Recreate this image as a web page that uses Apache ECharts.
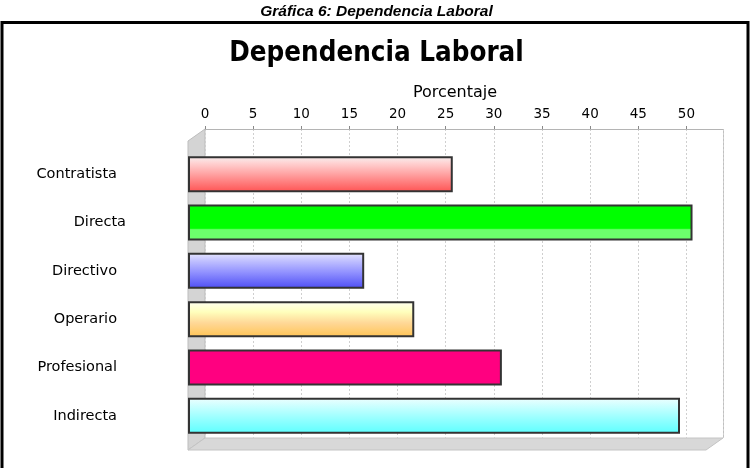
<!DOCTYPE html>
<html>
<head>
<meta charset="utf-8">
<title>Dependencia Laboral</title>
<script src="https://cdn.jsdelivr.net/npm/echarts@6/dist/echarts.min.js"></script>
<style>
  html, body { margin: 0; padding: 0; background: #fff; }
  #chart { width: 753px; height: 468px; }
</style>
</head>
<body>
<div id="chart"></div>
<script>
// datos (porcentaje, escala de la cara frontal)
const categorias = ['Contratista', 'Directa', 'Directivo', 'Operario', 'Profesional', 'Indirecta'];
const porcentajes = [27.5, 52.4, 18.3, 23.5, 32.6, 51.1];
const ejeMax = 53.8;
const ejePaso = 5;

// degradados de cada barra (arriba -> abajo)
const degradados = [
  [[0, '#f4f0f0'], [0.18, '#ffd4d4'], [0.5, '#ffa2a2'], [1, '#ff5252']],
  [[0, '#00ff00'], [0.66, '#00ff00'], [0.7, '#6cff6c'], [1, '#6cff6c']],
  [[0, '#e8e8ff'], [0.2, '#c4c4ff'], [0.55, '#9090ff'], [1, '#4c4cf4']],
  [[0, '#fffff4'], [0.3, '#ffffbc'], [0.6, '#ffd898'], [1, '#ffc454']],
  [[0, '#ff0080'], [1, '#ff0080']],
  [[0, '#eefefe'], [0.3, '#c0ffff'], [0.65, '#8cffff'], [1, '#5cffff']]
];

const fuente = 'DejaVu Sans';

const chart = echarts.init(document.getElementById('chart'));

const barras = porcentajes.map((v, i) => ({
  value: v,
  itemStyle: {
    color: new echarts.graphic.LinearGradient(0, 0, 0, 1,
      degradados[i].map(s => ({ offset: s[0], color: s[1] })))
  }
}));

chart.setOption({
  backgroundColor: '#fff',
  animation: false,
  title: [
    {
      text: 'Gráfica 6: Dependencia Laboral',
      left: 'center', top: -1,
      textStyle: { fontFamily: 'Liberation Sans', fontSize: 15.5, fontWeight: 'bold', fontStyle: 'italic', color: '#000' }
    },
    {
      text: 'Dependencia Laboral',
      left: 'center', top: 35,
      textStyle: { fontFamily: 'DejaVu Sans Condensed', fontSize: 27.5, fontWeight: 'bold', color: '#000' }
    }
  ],
  graphic: [
    // pared izquierda
    { type: 'polygon', z: 0, shape: { points: [[188, 141], [205, 129], [205, 438], [188, 450]] },
      style: { fill: '#d4d4d4', stroke: '#bdbdbd', lineWidth: 1 } },
    // suelo
    { type: 'polygon', z: 0, shape: { points: [[188, 450], [205, 438], [723, 438], [706, 450]] },
      style: { fill: '#d8d8d8', stroke: '#c4c4c4', lineWidth: 1 } },
    // pared derecha
    { type: 'line', z: 0, shape: { x1: 723.5, y1: 129, x2: 723.5, y2: 438 },
      style: { stroke: '#c0c0c0', lineWidth: 1 } },
    // marco
    { type: 'rect', z: 10, shape: { x: 2, y: 22.5, width: 746, height: 460 },
      style: { fill: 'none', stroke: '#000', lineWidth: 3 } }
  ],
  grid: [
    { left: 205, top: 129, width: 518, height: 309 },
    { left: 188, top: 150, width: 518, height: 290 }
  ],
  xAxis: [
    {
      type: 'value', gridIndex: 0, position: 'top',
      min: 0, max: ejeMax, interval: ejePaso,
      name: 'Porcentaje', nameLocation: 'middle', nameGap: 28,
      nameTextStyle: { fontFamily: fuente, fontSize: 16, color: '#000', padding: [0, 18, 0, 0] },
      axisLine: { show: true, lineStyle: { color: '#b4b4b4', width: 1 } },
      axisTick: { show: true, length: 3, lineStyle: { color: '#888' } },
      axisLabel: { margin: 8, fontFamily: fuente, fontSize: 13.5, color: '#000', showMaxLabel: false },
      splitLine: { show: true, lineStyle: { color: '#cfcfcf', type: [2, 2], width: 1 } }
    },
    {
      type: 'value', gridIndex: 1, show: false,
      min: 0, max: ejeMax, interval: ejePaso,
      splitLine: { show: false }
    }
  ],
  yAxis: [
    { type: 'category', gridIndex: 0, show: false, data: categorias, inverse: true },
    {
      type: 'category', gridIndex: 1, data: categorias, inverse: true,
      axisLine: { show: false }, axisTick: { show: false },
      axisLabel: {
        margin: 62, align: 'right', fontFamily: fuente, fontSize: 14.5, color: '#000',
        formatter: v => v === 'Directa' ? v : '{p|' + v + '}',
        rich: { p: { padding: [0, 9, 0, 0], fontFamily: fuente, fontSize: 14.5, color: '#000' } }
      }
    }
  ],
  series: [
    {
      type: 'bar', xAxisIndex: 1, yAxisIndex: 1,
      barWidth: 36,
      data: barras,
      itemStyle: { borderColor: '#333', borderWidth: 2 },
      z: 3
    }
  ]
});
</script>
</body>
</html>
